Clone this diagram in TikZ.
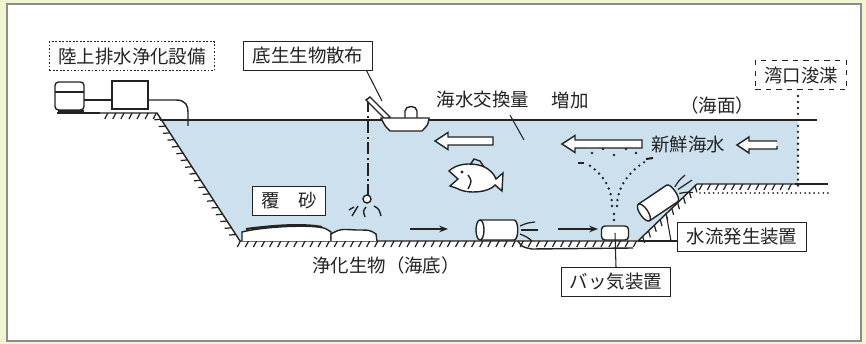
\documentclass[tikz,border=0pt]{standalone}
\usepackage{fontspec}
\setmainfont{Noto Sans CJK JP}
\usetikzlibrary{arrows.meta,decorations.markings}

\definecolor{seawater}{RGB}{204,224,238}
\definecolor{panel}{RGB}{243,245,208}
\definecolor{ink}{RGB}{35,35,35}

\tikzset{
  tag/.style={draw=ink, line width=0.6pt, fill=white, inner xsep=5pt,
    minimum height=0.56cm, text=ink},
  % hatched ground, ticks on the right-hand side of the path
  ground/.style={postaction={decorate}, decoration={markings,
    mark=between positions 0.01 and 1 step 4.6pt with
      {\draw[line width=0.7pt] (0,0) -- (-1.8pt,-3.4pt);}}},
  dots/.style={line width=1.5pt, dash pattern=on 0pt off 3.4pt, line cap=round},
  leader/.style={line width=0.6pt},
  bigarrow/.pic={
    \draw[fill=white] (-#1/2,0) -- (-#1/2+13,-8.5) -- (-#1/2+13,-4) -- (#1/2,-4)
      -- (#1/2,4) -- (-#1/2+13,4) -- (-#1/2+13,8.5) -- cycle;
  },
  jetpipe/.pic={
    \draw[fill=white] (-17,-10) -- (17,-10) .. controls (22,-10) and (22,10) .. (17,10) -- (-17,10);
    \draw[fill=white] (-17,0) ellipse [x radius=4, y radius=10];
    \draw[line width=0.7pt] (23,-4) .. controls (30,-7) .. (38,-8);
    \draw[line width=0.7pt] (24,0) -- (41,0);
    \draw[line width=0.7pt] (23,4) .. controls (30,7) .. (35,11);
  },
}

\begin{document}
\begin{tikzpicture}[x=0.02cm, y=-0.02cm, line width=0.8pt, color=ink,
    font=\fontsize{10.5pt}{12pt}\selectfont]
    \useasboundingbox (0,0) rectangle (866,344);
    \fill[panel] (0,0) rectangle (866,344);
    \draw[fill=white, draw=black!45, line width=0.6pt] (7,4) rectangle (861,341);

    % the bay
    \fill[seawater] (162,120) -- (798,120) -- (798,184) -- (697,184)
        -- (638,241) -- (240,241) -- cycle;
    \draw (160,120) -- (817,120);
    \draw (57,113) -- (100,113);
    \draw[ground] (100,113) -- (157,113) -- (240,241) -- (638,241)
        -- (697,184) -- (795,184);
    \draw (795,184) -- (828,184);
    \draw[line width=1.1pt, dash pattern=on 0pt off 2.6pt, line cap=round]
        (700,193) -- (828,193);
    \draw[dots] (798,96) -- (798,186);
    \coordinate (floorR) at (638,241);

    % scour under the jets
    \draw (518,241) .. controls (522,247) .. (532,249) -- (633,248);

    % covering sand
    \draw[fill=white] (242,241) -- (242,232) .. controls (262,227) and (300,225) .. (318,227)
        .. controls (325,228) .. (331,232) -- (331,241);
    \draw[fill=white] (331,241) -- (331,234) .. controls (340,229) .. (356,230)
        .. controls (370,230) .. (376,234) -- (377,241);
    \draw[line width=1.2pt] (246,229) .. controls (270,226) and (300,223) .. (322,227);

    % land side plant
    \draw[fill=white, rounded corners=2pt] (55,82) rectangle (84,110);
    \draw (55,92) -- (84,92);
    \draw[line width=1.4pt] (58,111) -- (84,111);
    \draw (84,100) -- (112,100);
    \draw[fill=white] (112,81) rectangle (148,109);
    \draw (148,100) -- (176,100) .. controls (186,100) and (188,106) .. (188,112) -- (188,126);

    % boat with sand dropper
    \draw[line width=0.7pt, dash pattern=on 7pt off 2pt on 1pt off 2pt] (368,100) -- (368,195);
    \draw[fill=white] (367,199) circle [radius=4];
    \draw (358,206) -- (352,216);
    \draw (349,210) -- (354,207);
    \draw (366,207) .. controls (363,211) .. (365,217);
    \draw (374,206) .. controls (379,209) .. (381,216);
    \draw[fill=white] (366,100) -- (370,97) -- (390,117) -- (385,119) -- cycle;
    \draw[fill=white] (405,118) -- (405,111) .. controls (405,105) and (417,105) .. (417,111) -- (417,118);
    \draw[fill=white] (381,118) -- (429,118) .. controls (428,125) .. (422,131)
        -- (390,131) .. controls (385,126) .. (381,118) -- cycle;
    \coordinate (armtop) at (382,101);

    % flow
    \pic (flowA) at (464,141) {bigarrow=58};
    \pic (flowB) at (602,144) {bigarrow=80};
    \draw[fill=white] (777,141) -- (749,141) -- (749,137) -- (737,145) -- (749,153)
        -- (749,149) -- (777,149) -- (777,146);
    \coordinate (mixpt) at (524,140);

    % fish
    \draw[fill=white] (449,171) .. controls (456,164) and (470,162) .. (482,166)
        .. controls (490,169) and (494,174) .. (496,179)
        -- (503,173) -- (502,191) -- (495,185)
        .. controls (490,192) and (468,195) .. (456,188)
        -- (450,186) -- (458,179) -- cycle;
    \draw (470,165) -- (474,159) -- (480,161) -- (484,167);
    \draw (468,175) .. controls (472,181) .. (468,189);
    \fill (462,172) circle [radius=1.7];

    % water jets
    \pic (pipeA) at (497,230) {jetpipe};
    \pic[rotate=34] (pipeB) at (658,203) {jetpipe};
    \coordinate (pipefoot) at (666,213);
    \draw[-{Stealth[length=5pt]}, line width=1pt] (410,229) -- (448,229);
    \draw[-{Stealth[length=5pt]}, line width=1pt] (558,229) -- (598,229);

    % aeration
    \draw[dots] (614,214) -- (614,222);
    \draw[dots] (612,206) .. controls (612,190) and (605,175) .. (586,163);
    \draw[dots] (617,206) .. controls (617,188) and (628,172) .. (646,161);
    \foreach \p in {(592,153),(603,149),(614,155),(626,149),(636,153)}
        \fill \p circle [radius=1.4];
    \draw[line width=1.2pt] (578,163) -- (584,163);
    \draw[line width=1.2pt] (646,159) -- (653,158);
    \node[draw, fill=white, rounded corners=2pt, minimum width=0.54cm,
        minimum height=0.28cm, inner sep=0pt] (aerator) at (615,233) {};

    % labels
    \node[tag, dash pattern=on 1pt off 1pt] (plant) at (132,56) {陸上排水浄化設備};
    \node[tag] (spread) at (308,56) {底生生物散布};
    \node[tag, dashed] (dredge) at (801,75) {湾口浚渫};
    \node[tag] (sand) at (289,201) {覆　砂};
    \node[tag] (jet) at (742,237) {水流発生装置};
    \node[tag] (aer) at (616,282) {バッ気装置};
    \node (exch) at (483,100) {海水交換量};
    \node (incr) at (570,100) {増加};
    \node (surf) at (717,105) {（海面）};
    \node (fresh) at (688,145) {新鮮海水};
    \node (bed) at (386,265) {浄化生物（海底）};

    \draw[leader] ([xshift=-0.12cm]spread.south east) -- (armtop);
    \draw[leader] ([xshift=0.54cm]exch.south) -- (mixpt);
    \draw[leader] (pipefoot) -- (671,241);
    \draw[leader] (floorR) -- (floorR -| jet.west);
    \draw[leader] (aerator.center) -- (aer.north);
\end{tikzpicture}
\end{document}
